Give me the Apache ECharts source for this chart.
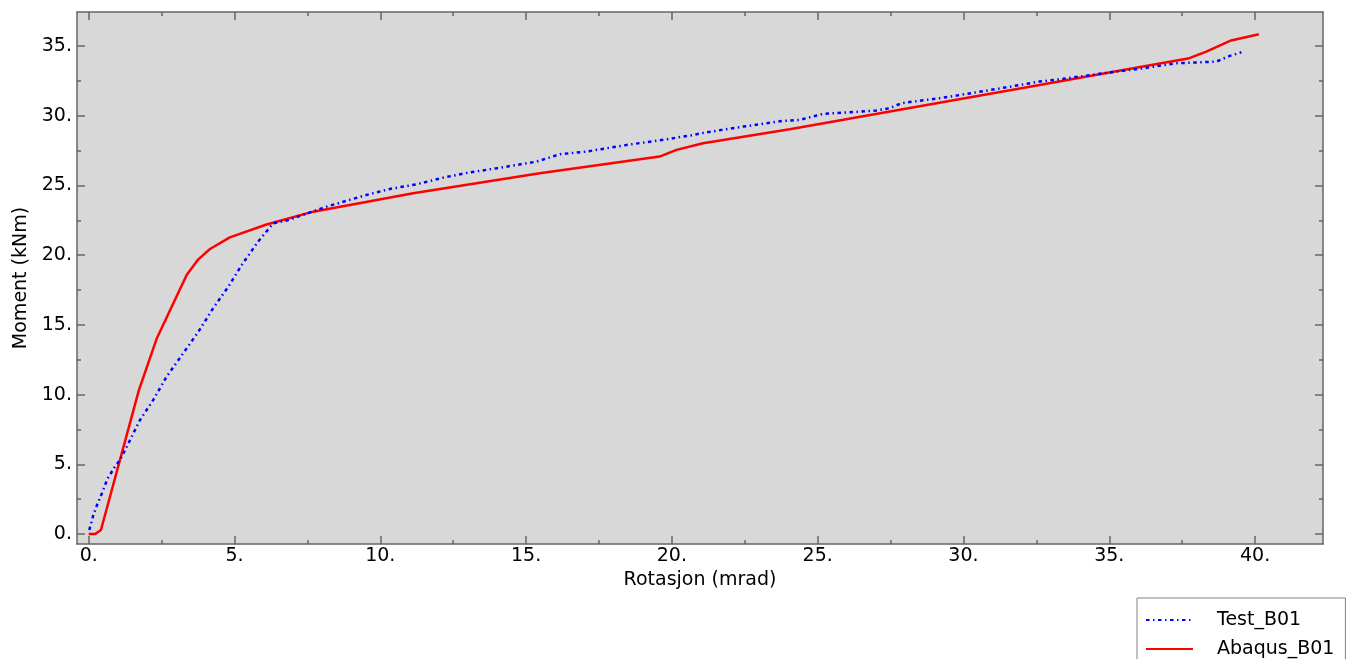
<!DOCTYPE html>
<html>
<head>
<meta charset="utf-8">
<script src="https://cdn.jsdelivr.net/npm/echarts@6/dist/echarts.min.js"></script>
<style>
html,body{margin:0;padding:0;background:#fff;}
#chart{width:1356px;height:659px;}
</style>
</head>
<body>
<div id="chart"></div>
<script>
// ---- data ----
const seriesNames = ['Test_B01', 'Abaqus_B01'];
const testX = [0.02, 0.16, 0.27, 0.5, 0.64, 0.9, 1.07, 1.24, 1.42, 1.76, 2.21, 2.67, 3.24, 3.76, 4.27, 4.79, 5.25, 5.81, 6.33, 6.79, 8.16, 9.53, 10.33, 11.24, 12.16, 13.07, 13.99, 15.36, 16.16, 17.07, 18.44, 19.81, 20.73, 21.13, 22.44, 23.81, 24.38, 25.18, 27.01, 27.47, 27.87, 29.18, 30.1, 31.47, 32.61, 33.24, 35.0, 36.15, 37.3, 38.67, 39.13, 39.53];
const testY = [0.29, 1.36, 2.0, 3.16, 3.95, 4.83, 5.3, 5.98, 6.74, 8.18, 9.6, 11.28, 12.96, 14.5, 16.2, 17.74, 19.3, 20.97, 22.29, 22.48, 23.48, 24.32, 24.75, 25.08, 25.56, 25.94, 26.23, 26.71, 27.24, 27.43, 27.9, 28.31, 28.62, 28.79, 29.22, 29.63, 29.7, 30.13, 30.37, 30.54, 30.9, 31.26, 31.56, 32.04, 32.45, 32.6, 33.1, 33.4, 33.76, 33.88, 34.29, 34.55];
const abaqusX = [0, 0.22, 0.42, 1.72, 2.33, 3.36, 3.76, 4.16, 4.84, 6.1, 7.7, 11.13, 15.47, 19.58, 20.16, 21.07, 24.04, 32.61, 35.0, 37.7, 38.33, 39.18, 40.13];
const abaqusY = [0, 0, 0.29, 10.3, 14.0, 18.58, 19.7, 20.44, 21.28, 22.2, 23.12, 24.44, 25.87, 27.07, 27.55, 28.03, 29.03, 32.2, 33.1, 34.1, 34.6, 35.4, 35.85];
const xMajorTicks = [0, 5, 10, 15, 20, 25, 30, 35, 40];
const xMinorTicks = [2.5, 7.5, 12.5, 17.5, 22.5, 27.5, 32.5, 37.5];
const yMajorTicks = [0, 5, 10, 15, 20, 25, 30, 35];
const yMinorTicks = [2.5, 7.5, 12.5, 17.5, 22.5, 27.5, 32.5];
const xTitle = 'Rotasjon (mrad)';
const yTitle = 'Moment (kNm)';

// ---- chart ----
const FONT = 'DejaVu Sans';
const AX = '#666666';
const X_MIN = -0.401, X_MAX = 42.33, Y_MIN = -0.717, Y_MAX = 37.44;
const gridRect = {left: 77, top: 12, width: 1246, height: 532};

function xAxis(gridIndex, position, ticks, len, withLabels) {
  return {
    type: 'value', gridIndex, position, min: X_MIN, max: X_MAX,
    axisLine: {show: gridIndex === 0, onZero: false, lineStyle: {color: AX, width: 1.5}},
    axisTick: {show: true, inside: true, length: len, customValues: ticks, lineStyle: {color: AX, width: 1.5}},
    axisLabel: withLabels ? {show: true, customValues: xMajorTicks, formatter: v => v + '.', fontFamily: FONT, fontSize: 19, color: '#000', margin: 3} : {show: false},
    splitLine: {show: false},
    name: withLabels ? xTitle : '', nameLocation: 'middle', nameGap: 25,
    nameTextStyle: {fontFamily: FONT, fontSize: 19, color: '#000'}
  };
}
function yAxis(gridIndex, position, ticks, len, withLabels) {
  return {
    type: 'value', gridIndex, position, min: Y_MIN, max: Y_MAX,
    axisLine: {show: gridIndex === 0, onZero: false, lineStyle: {color: AX, width: 1.5}},
    axisTick: {show: true, inside: true, length: len, customValues: ticks, lineStyle: {color: AX, width: 1.5}},
    axisLabel: withLabels ? {show: true, customValues: yMajorTicks, formatter: v => v + '.', fontFamily: FONT, fontSize: 19, color: '#000', margin: 5} : {show: false},
    splitLine: {show: false},
    name: withLabels ? yTitle : '', nameLocation: 'middle', nameGap: 46, nameRotate: 90,
    nameTextStyle: {fontFamily: FONT, fontSize: 19, color: '#000'}
  };
}

const chart = echarts.init(document.getElementById('chart'));
chart.setOption({
  animation: false,
  backgroundColor: '#ffffff',
  grid: [
    Object.assign({show: true, backgroundColor: '#d8d8d8', borderWidth: 0}, gridRect),
    Object.assign({show: false}, gridRect)
  ],
  xAxis: [
    xAxis(0, 'bottom', xMajorTicks, 8, true),
    xAxis(0, 'top', xMajorTicks, 8, false),
    xAxis(1, 'bottom', xMinorTicks, 4, false),
    xAxis(1, 'top', xMinorTicks, 4, false)
  ],
  yAxis: [
    yAxis(0, 'left', yMajorTicks, 8, true),
    yAxis(0, 'right', yMajorTicks, 8, false),
    yAxis(1, 'left', yMinorTicks, 4, false),
    yAxis(1, 'right', yMinorTicks, 4, false)
  ],
  legend: {
    data: seriesNames,
    orient: 'vertical',
    left: 1137, top: 598, height: 70,
    itemWidth: 47, itemHeight: 14, itemGap: 9,
    padding: [12, 11, 20, 8],
    borderColor: '#808080', borderWidth: 1, borderRadius: 0,
    backgroundColor: '#ffffff',
    itemStyle: {opacity: 0},
    textStyle: {fontFamily: FONT, fontSize: 19, color: '#000', lineHeight: 20, padding: [0, 0, 0, 19]}
  },
  series: [
    {
      name: seriesNames[0], type: 'line', xAxisIndex: 0, yAxisIndex: 0,
      data: testX.map((x, i) => [x, testY[i]]),
      showSymbol: false, symbol: 'none', smooth: false,
      lineStyle: {color: '#0000ff', width: 2.5, type: [3.5, 3.5, 1.5, 3.5]},
      itemStyle: {color: '#0000ff'}, z: 3
    },
    {
      name: seriesNames[1], type: 'line', xAxisIndex: 0, yAxisIndex: 0,
      data: abaqusX.map((x, i) => [x, abaqusY[i]]),
      showSymbol: false, symbol: 'none', smooth: false,
      lineStyle: {color: '#ff0000', width: 2.5, type: 'solid'},
      itemStyle: {color: '#ff0000'}, z: 2
    }
  ]
});
</script>
</body>
</html>
